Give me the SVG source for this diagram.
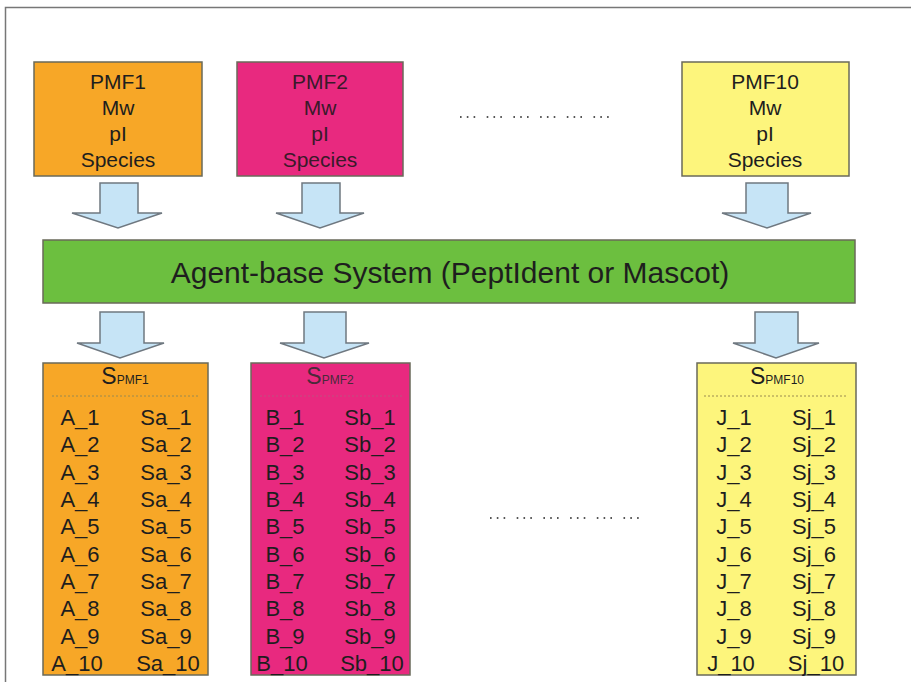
<svg xmlns="http://www.w3.org/2000/svg" width="911" height="682" viewBox="0 0 911 682">
<style>
text{font-family:"Liberation Sans",Arial,sans-serif;fill:#1e1e1e}
.box{stroke:#6a6a5a;stroke-width:1.5}
.top{font-size:21px;text-anchor:middle}
.row{font-size:22px;text-anchor:middle}
.arrow{fill:#c6e4f6;stroke:#6f7880;stroke-width:1.5;stroke-linejoin:miter}
.dots{stroke:#555;stroke-width:1.8;stroke-dasharray:1.6 5.2 1.6 5.2 1.6 11.5}
.sep{stroke:#9a8a50;stroke-width:1;stroke-dasharray:2 2}
</style>
<rect width="911" height="682" fill="#fff"/>
<path d="M5.5,682 V7.5 H911" fill="none" stroke="#777" stroke-width="1.5"/>

<g id="pmf1">
<rect class="box" x="34" y="62" width="168" height="114" fill="#f7a727"/>
<text class="top" x="118" y="89">PMF1</text>
<text class="top" x="118" y="115">Mw</text>
<text class="top" x="118" y="141">pI</text>
<text class="top" x="118" y="167">Species</text>
</g>
<g id="pmf2">
<rect class="box" x="237" y="62" width="166" height="114" fill="#e8297f"/>
<text class="top" x="320" y="89" style="fill:#3a1a2a">PMF2</text>
<text class="top" x="320" y="115" style="fill:#3a1a2a">Mw</text>
<text class="top" x="320" y="141" style="fill:#3a1a2a">pI</text>
<text class="top" x="320" y="167" style="fill:#3a1a2a">Species</text>
</g>
<g id="dots-top">
<line class="dots" x1="460" y1="117" x2="609.5" y2="117"/>
</g>
<g id="pmf10">
<rect class="box" x="682" y="62" width="167" height="114" fill="#fdf57c"/>
<text class="top" x="765" y="89">PMF10</text>
<text class="top" x="765" y="115">Mw</text>
<text class="top" x="765" y="141">pI</text>
<text class="top" x="765" y="167">Species</text>
</g>

<g id="agent">
<rect class="box" x="43" y="240" width="812" height="63" fill="#6cbf3f"/>
<text x="450" y="283" font-size="30" text-anchor="middle">Agent-base System (PeptIdent or Mascot)</text>
</g>

<g id="connectors">
<path class="arrow" d="M100,183 H138 V213 H162 L118,228 L72,213 H100 Z"/>
<path class="arrow" d="M302,183 H340 V213 H364 L320,228 L276,213 H302 Z"/>
<path class="arrow" d="M746,183 H788 V213 H811 L767,228 L722,213 H746 Z"/>
<path class="arrow" d="M100,312 H144 V343 H164 L120,358 L77,343 H100 Z"/>
<path class="arrow" d="M304,312 H346 V343 H369 L324,358 L280,343 H304 Z"/>
<path class="arrow" d="M755,312 H798 V343 H819 L776,358 L733,343 H755 Z"/>
</g>

<g id="spmf1">
<rect class="box" x="43" y="363" width="165" height="312" fill="#f7a727"/>
<text x="125" y="384" text-anchor="middle"><tspan font-size="23">S</tspan><tspan font-size="12">PMF1</tspan></text>
<line class="sep" x1="52" y1="396" x2="198" y2="396"/>
<text class="row" x="80" y="425">A_1</text><text class="row" x="166" y="425">Sa_1</text>
<text class="row" x="80" y="452">A_2</text><text class="row" x="166" y="452">Sa_2</text>
<text class="row" x="80" y="480">A_3</text><text class="row" x="166" y="480">Sa_3</text>
<text class="row" x="80" y="507">A_4</text><text class="row" x="166" y="507">Sa_4</text>
<text class="row" x="80" y="534">A_5</text><text class="row" x="166" y="534">Sa_5</text>
<text class="row" x="80" y="562">A_6</text><text class="row" x="166" y="562">Sa_6</text>
<text class="row" x="80" y="589">A_7</text><text class="row" x="166" y="589">Sa_7</text>
<text class="row" x="80" y="616">A_8</text><text class="row" x="166" y="616">Sa_8</text>
<text class="row" x="80" y="644">A_9</text><text class="row" x="166" y="644">Sa_9</text>
<text class="row" x="77" y="671">A_10</text><text class="row" x="168" y="671">Sa_10</text>
</g>

<g id="spmf2">
<rect class="box" x="251" y="363" width="159" height="312" fill="#e8297f"/>
<text x="330" y="384" text-anchor="middle" style="fill:#4a2a3a"><tspan font-size="23">S</tspan><tspan font-size="12">PMF2</tspan></text>
<line class="sep" x1="260" y1="396" x2="402" y2="396" style="stroke:#c05080"/>
<g style="fill:#3a1a2a">
<text class="row" x="285" y="425">B_1</text><text class="row" x="370" y="425">Sb_1</text>
<text class="row" x="285" y="452">B_2</text><text class="row" x="370" y="452">Sb_2</text>
<text class="row" x="285" y="480">B_3</text><text class="row" x="370" y="480">Sb_3</text>
<text class="row" x="285" y="507">B_4</text><text class="row" x="370" y="507">Sb_4</text>
<text class="row" x="285" y="534">B_5</text><text class="row" x="370" y="534">Sb_5</text>
<text class="row" x="285" y="562">B_6</text><text class="row" x="370" y="562">Sb_6</text>
<text class="row" x="285" y="589">B_7</text><text class="row" x="370" y="589">Sb_7</text>
<text class="row" x="285" y="616">B_8</text><text class="row" x="370" y="616">Sb_8</text>
<text class="row" x="285" y="644">B_9</text><text class="row" x="370" y="644">Sb_9</text>
<text class="row" x="282" y="671">B_10</text><text class="row" x="372" y="671">Sb_10</text>
</g>
</g>

<g id="dots-bottom">
<line class="dots" x1="490" y1="518" x2="639.5" y2="518"/>
</g>

<g id="spmf10">
<rect class="box" x="697" y="363" width="159" height="312" fill="#fdf57c"/>
<text x="777" y="384" text-anchor="middle"><tspan font-size="23">S</tspan><tspan font-size="12">PMF10</tspan></text>
<line class="sep" x1="704" y1="396" x2="848" y2="396"/>
<text class="row" x="734" y="425">J_1</text><text class="row" x="814" y="425">Sj_1</text>
<text class="row" x="734" y="452">J_2</text><text class="row" x="814" y="452">Sj_2</text>
<text class="row" x="734" y="480">J_3</text><text class="row" x="814" y="480">Sj_3</text>
<text class="row" x="734" y="507">J_4</text><text class="row" x="814" y="507">Sj_4</text>
<text class="row" x="734" y="534">J_5</text><text class="row" x="814" y="534">Sj_5</text>
<text class="row" x="734" y="562">J_6</text><text class="row" x="814" y="562">Sj_6</text>
<text class="row" x="734" y="589">J_7</text><text class="row" x="814" y="589">Sj_7</text>
<text class="row" x="734" y="616">J_8</text><text class="row" x="814" y="616">Sj_8</text>
<text class="row" x="734" y="644">J_9</text><text class="row" x="814" y="644">Sj_9</text>
<text class="row" x="731" y="671">J_10</text><text class="row" x="816" y="671">Sj_10</text>
</g>
</svg>
